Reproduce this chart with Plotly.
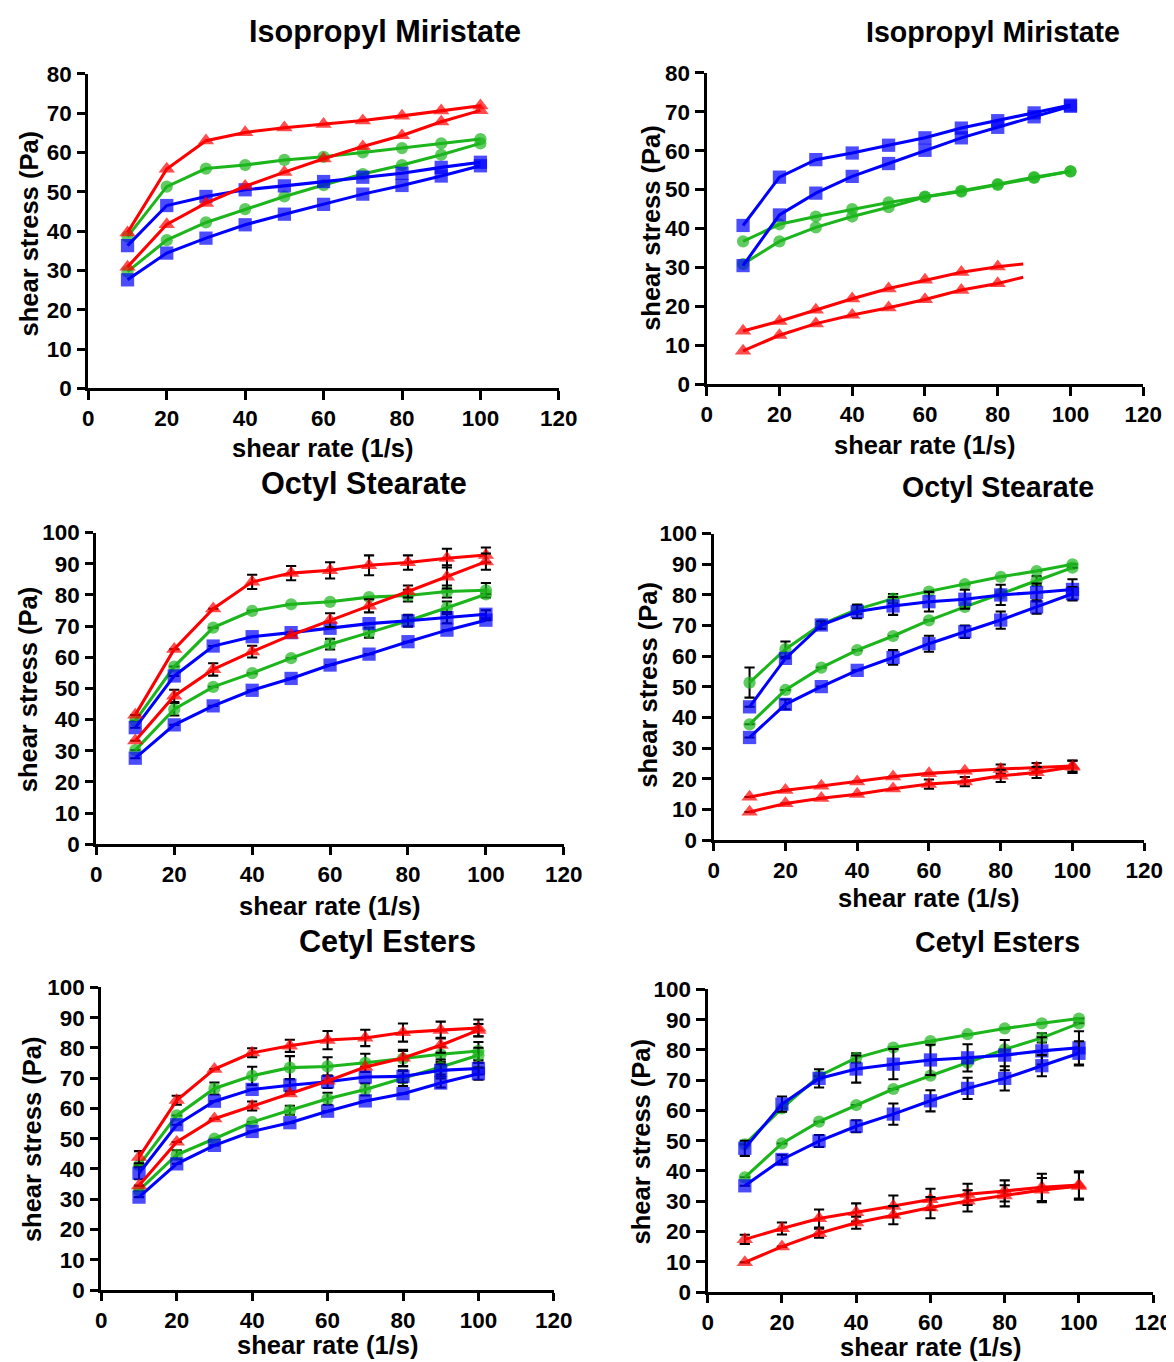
import plotly.graph_objects as go

# Rendering calibration: picture = K * svg + (OX, OY)  (measured empirically)
K, OX, OY = 0.98, 12.6, 20.3
W, H = 1190, 1372

# ---------------- data ----------------
shear_rate = [10, 20, 30, 40, 50, 60, 70, 80, 90, 100]
shear_rate_ipm2_red = [10, 20, 30, 40, 50, 60, 70, 80, 87]

# Panel 1: Isopropyl Miristate (left)
ipm1_red_up = [39.6, 55.8, 63.0, 65.1, 66.3, 67.2, 68.1, 69.3, 70.6, 71.9]
ipm1_red_dn = [30.9, 41.7, 47.1, 51.4, 55.0, 58.4, 61.5, 64.3, 67.8, 70.7]
ipm1_green_up = [38.6, 51.3, 55.9, 56.8, 58.1, 58.9, 60.0, 61.1, 62.3, 63.4]
ipm1_green_dn = [29.7, 37.7, 42.2, 45.6, 48.8, 51.7, 54.5, 56.8, 59.4, 62.3]
ipm1_blue_up = [36.3, 46.5, 48.8, 50.5, 51.5, 52.6, 53.7, 54.7, 56.2, 57.5]
ipm1_blue_dn = [27.6, 34.4, 38.2, 41.6, 44.3, 46.8, 49.4, 51.6, 54.0, 56.6]

# Panel 2: Isopropyl Miristate (right)
ipm2_red_up = [13.7, 16.2, 19.1, 22.0, 24.6, 26.8, 28.8, 30.2, 30.9]
ipm2_red_dn = [8.6, 12.6, 15.6, 17.8, 19.7, 21.8, 24.2, 25.9, 27.5]
ipm2_green_up = [36.7, 41.1, 43.1, 45.0, 46.7, 48.2, 49.7, 51.4, 53.2, 54.7]
ipm2_green_dn = [30.9, 36.7, 40.3, 43.1, 45.5, 48.1, 49.5, 51.2, 53.0, 54.7]
ipm2_blue_up = [40.8, 53.2, 57.7, 59.4, 61.4, 63.3, 65.8, 67.7, 69.7, 71.7]
ipm2_blue_dn = [30.5, 43.5, 49.1, 53.4, 56.7, 60.1, 63.3, 66.0, 68.7, 71.4]

# Panel 3: Octyl Stearate (left)
os1_red_up = [41.5, 62.6, 75.6, 84.2, 87.0, 87.9, 89.5, 90.4, 91.8, 92.8]
os1_red_up_err = [0, 0, 0, 2.3, 2.3, 2.6, 3.2, 2.3, 3.0, 2.4]
os1_red_dn = [33.2, 47.6, 56.1, 61.8, 67.1, 71.9, 76.5, 81.1, 85.8, 90.7]
os1_red_dn_err = [0, 2.0, 2.0, 1.9, 0, 2.2, 2.1, 1.9, 3.7, 2.6]
os1_green_up = [39.6, 57.0, 69.5, 74.9, 77.0, 77.8, 79.3, 79.8, 81.1, 81.5]
os1_green_up_err = [0, 0, 0, 0, 0, 0, 0, 1.9, 1.9, 2.3]
os1_green_dn = [30.2, 43.3, 50.5, 54.9, 59.7, 64.2, 67.9, 71.7, 75.9, 80.2]
os1_green_dn_err = [0, 2.0, 0, 0, 0, 1.7, 1.6, 1.7, 2.0, 0]
os1_blue_up = [37.4, 54.0, 63.6, 66.6, 67.9, 69.3, 70.8, 71.7, 72.7, 73.8]
os1_blue_up_err = [0, 0, 0, 0, 0, 0, 0, 1.9, 1.8, 1.3]
os1_blue_dn = [27.6, 38.3, 44.4, 49.4, 53.2, 57.5, 61.0, 65.0, 68.7, 71.9]
os1_blue_dn_err = [0, 0, 0, 0, 0, 0, 0, 0, 0, 0]

# Panel 4: Octyl Stearate (right)
os2_green_up = [51.4, 62.3, 70.4, 75.3, 78.8, 81.1, 83.5, 85.9, 87.8, 90.0]
os2_green_up_err = [4.9, 2.5, 0, 1.5, 1.5, 0, 0, 0, 0, 0]
os2_green_dn = [37.8, 49.0, 56.3, 62.0, 66.6, 71.7, 76.1, 80.4, 84.6, 88.9]
os2_green_dn_err = [0, 0, 0, 0, 0, 0, 0, 0, 1.5, 0]
os2_blue_up = [43.5, 59.3, 70.2, 74.6, 76.4, 77.8, 78.6, 80.0, 80.8, 81.8]
os2_blue_up_err = [0, 0, 1.2, 2.2, 2.9, 3.2, 3.1, 3.3, 2.9, 3.3]
os2_blue_dn = [33.5, 44.3, 50.1, 55.4, 59.6, 64.1, 68.0, 71.8, 76.1, 80.4]
os2_blue_dn_err = [0, 1.6, 0, 0, 2.4, 2.6, 2.0, 2.8, 2.2, 2.2]
os2_red_up = [14.1, 16.3, 17.7, 19.1, 20.7, 21.8, 22.6, 23.2, 23.7, 24.2]
os2_red_up_err = [0, 0, 0, 0, 0, 0, 0, 1.5, 1.5, 1.8]
os2_red_dn = [9.2, 12.0, 13.7, 15.0, 16.8, 18.3, 19.1, 21.0, 22.1, 23.9]
os2_red_dn_err = [0, 0, 0, 0, 0, 1.5, 1.5, 2.0, 1.8, 2.0]

# Panel 5: Cetyl Esters (left)
ce1_red_up = [43.9, 62.7, 73.0, 78.4, 80.7, 82.6, 83.3, 85.1, 85.9, 86.6]
ce1_red_up_err = [2.0, 1.5, 0, 1.5, 2.0, 3.0, 2.7, 3.0, 2.8, 2.8]
ce1_red_dn = [34.5, 48.9, 56.6, 60.8, 64.9, 69.1, 73.7, 76.7, 80.9, 85.9]
ce1_red_dn_err = [0, 0, 0, 1.5, 0, 0, 0, 2.7, 2.5, 2.0]
ce1_green_up = [41.2, 57.7, 66.6, 70.8, 73.5, 73.9, 75.1, 76.5, 77.9, 79.0]
ce1_green_up_err = [0, 0, 2.0, 3.0, 3.8, 3.0, 3.0, 2.5, 2.5, 3.0]
ce1_green_dn = [32.9, 44.7, 50.0, 55.5, 59.4, 63.2, 66.3, 69.9, 73.7, 77.6]
ce1_green_dn_err = [0, 1.5, 0, 0, 1.5, 2.0, 2.0, 2.5, 2.5, 2.5]
ce1_blue_up = [38.6, 54.6, 62.4, 66.3, 67.7, 68.8, 70.4, 70.6, 72.6, 73.2]
ce1_blue_up_err = [2.0, 0, 0, 0, 2.0, 2.0, 0, 2.0, 2.0, 2.0]
ce1_blue_dn = [30.7, 41.7, 47.8, 52.4, 55.3, 59.1, 62.5, 64.9, 68.4, 71.5]
ce1_blue_dn_err = [0, 0, 0, 0, 0, 0, 0, 0, 1.5, 2.0]

# Panel 6: Cetyl Esters (right)
ce2_green_up = [48.8, 60.7, 71.4, 77.4, 80.8, 82.9, 85.2, 87.1, 88.8, 90.4]
ce2_green_up_err = [0, 0, 0, 1.5, 0, 0, 0, 0, 0, 0]
ce2_green_dn = [37.9, 49.1, 56.3, 61.8, 67.1, 71.5, 75.8, 80.2, 84.0, 88.8]
ce2_green_dn_err = [0, 0, 0, 0, 0, 0, 0, 0, 1.5, 0]
ce2_blue_up = [47.5, 62.1, 70.6, 73.7, 75.3, 76.7, 77.4, 78.3, 79.7, 80.7]
ce2_blue_up_err = [2.5, 2.5, 3.0, 4.5, 5.0, 5.0, 4.5, 5.0, 4.5, 5.5]
ce2_blue_dn = [35.1, 43.8, 49.9, 54.8, 58.8, 63.2, 67.3, 70.6, 74.8, 78.9]
ce2_blue_dn_err = [0, 1.5, 2.0, 2.0, 3.5, 3.5, 3.5, 4.0, 3.5, 4.0]
ce2_red_up = [17.4, 21.0, 24.3, 26.3, 28.4, 30.6, 32.3, 33.4, 34.6, 35.4]
ce2_red_up_err = [1.5, 2.0, 3.0, 3.0, 3.5, 3.5, 3.5, 3.5, 4.5, 4.5]
ce2_red_dn = [9.8, 15.0, 19.4, 22.9, 25.4, 27.9, 30.1, 31.8, 33.7, 35.0]
ce2_red_dn_err = [0, 0, 1.5, 2.0, 3.0, 3.5, 3.5, 3.5, 4.0, 4.5]

titles = ["Isopropyl Miristate", "Isopropyl Miristate", "Octyl Stearate",
          "Octyl Stearate", "Cetyl Esters", "Cetyl Esters"]
x_title = "shear rate (1/s)"
y_title = "shear stress (Pa)"
x_ticks = [0, 20, 40, 60, 80, 100, 120]

# ---------------- styles ----------------
RED = "#ff0000"
GREEN = "#1cb51c"
BLUE = "#0000ff"
FONT = "Liberation Sans"

# target picture-pixel boxes for each panel: (x_left, x_right, y_bottom(0), y_top(max), ymax)
panels = [
    (87, 558, 388, 74, 80),
    (706, 1143, 384, 73, 80),
    (95, 563, 843, 532, 100),
    (713, 1144, 839, 533, 100),
    (100, 553, 1288, 986, 100),
    (707, 1153, 1290, 988, 100),
]

title_pos = [(384, 32), (993, 32), (363, 483), (998, 486), (386, 940), (997, 941)]
title_size = [30, 28, 30, 28, 30, 28]
xlab_pos = [(321, 448), (924, 445), (328, 905), (928, 897), (326, 1343), (930, 1345)]
ylab_pos = [(28, 233), (650, 228), (27, 688), (647, 684), (30, 1137), (640, 1140)]

panel_traces = [
    [(shear_rate, ipm1_green_up, None, GREEN, "circle"),
     (shear_rate, ipm1_green_dn, None, GREEN, "circle"),
     (shear_rate, ipm1_blue_up, None, BLUE, "square"),
     (shear_rate, ipm1_blue_dn, None, BLUE, "square"),
     (shear_rate, ipm1_red_up, None, RED, "triangle-up"),
     (shear_rate, ipm1_red_dn, None, RED, "triangle-up")],
    [(shear_rate, ipm2_green_up, None, GREEN, "circle"),
     (shear_rate, ipm2_green_dn, None, GREEN, "circle"),
     (shear_rate, ipm2_blue_up, None, BLUE, "square"),
     (shear_rate, ipm2_blue_dn, None, BLUE, "square"),
     (shear_rate_ipm2_red, ipm2_red_up, None, RED, "triangle-up"),
     (shear_rate_ipm2_red, ipm2_red_dn, None, RED, "triangle-up")],
    [(shear_rate, os1_green_up, os1_green_up_err, GREEN, "circle"),
     (shear_rate, os1_green_dn, os1_green_dn_err, GREEN, "circle"),
     (shear_rate, os1_blue_up, os1_blue_up_err, BLUE, "square"),
     (shear_rate, os1_blue_dn, os1_blue_dn_err, BLUE, "square"),
     (shear_rate, os1_red_up, os1_red_up_err, RED, "triangle-up"),
     (shear_rate, os1_red_dn, os1_red_dn_err, RED, "triangle-up")],
    [(shear_rate, os2_green_up, os2_green_up_err, GREEN, "circle"),
     (shear_rate, os2_green_dn, os2_green_dn_err, GREEN, "circle"),
     (shear_rate, os2_blue_up, os2_blue_up_err, BLUE, "square"),
     (shear_rate, os2_blue_dn, os2_blue_dn_err, BLUE, "square"),
     (shear_rate, os2_red_up, os2_red_up_err, RED, "triangle-up"),
     (shear_rate, os2_red_dn, os2_red_dn_err, RED, "triangle-up")],
    [(shear_rate, ce1_green_up, ce1_green_up_err, GREEN, "circle"),
     (shear_rate, ce1_green_dn, ce1_green_dn_err, GREEN, "circle"),
     (shear_rate, ce1_blue_up, ce1_blue_up_err, BLUE, "square"),
     (shear_rate, ce1_blue_dn, ce1_blue_dn_err, BLUE, "square"),
     (shear_rate, ce1_red_up, ce1_red_up_err, RED, "triangle-up"),
     (shear_rate, ce1_red_dn, ce1_red_dn_err, RED, "triangle-up")],
    [(shear_rate, ce2_green_up, ce2_green_up_err, GREEN, "circle"),
     (shear_rate, ce2_green_dn, ce2_green_dn_err, GREEN, "circle"),
     (shear_rate, ce2_blue_up, ce2_blue_up_err, BLUE, "square"),
     (shear_rate, ce2_blue_dn, ce2_blue_dn_err, BLUE, "square"),
     (shear_rate, ce2_red_up, ce2_red_up_err, RED, "triangle-up"),
     (shear_rate, ce2_red_dn, ce2_red_dn_err, RED, "triangle-up")],
]

marker_size = {"circle": 12, "square": 13, "triangle-up": 14}


def sx(t):
    return (t - OX) / K


def sy(t):
    return (t - OY) / K


def fx(t):
    return sx(t) / W


def fy(t):
    return 1 - sy(t) / H


def sz(v):
    return v / K


fig = go.Figure()
layout = dict(
    width=W, height=H,
    margin=dict(l=0, r=0, t=0, b=0),
    paper_bgcolor="white", plot_bgcolor="white",
    showlegend=False,
    font=dict(family=FONT, color="black"),
)
annotations = []
tick_font = dict(family=FONT, size=sz(22), color="black", weight="bold")

for i, (xl, xr, yb, yt, ymax) in enumerate(panels):
    n = i + 1
    xa = "xaxis" if n == 1 else f"xaxis{n}"
    ya = "yaxis" if n == 1 else f"yaxis{n}"
    xref = "x" if n == 1 else f"x{n}"
    yref = "y" if n == 1 else f"y{n}"
    layout[xa] = dict(
        domain=[fx(xl), fx(xr)], anchor=yref, range=[0, 120],
        tickvals=x_ticks, ticks="outside", ticklen=sz(8), tickwidth=sz(3), tickcolor="black",
        showline=True, linewidth=sz(3), linecolor="black", showgrid=False, zeroline=False,
        tickfont=tick_font, fixedrange=True,
    )
    layout[ya] = dict(
        domain=[fy(yb), fy(yt)], anchor=xref, range=[0, ymax],
        dtick=10, ticks="outside", ticklen=sz(8), tickwidth=sz(3), tickcolor="black",
        showline=True, linewidth=sz(3), linecolor="black", showgrid=False, zeroline=False,
        tickfont=tick_font, ticklabelstandoff=1, fixedrange=True,
    )
    for (xs, ys, err, col, sym) in panel_traces[i]:
        sizes = [sz(marker_size[sym]) if x % 10 == 0 else 0 for x in xs]
        kw = {}
        if err is not None:
            kw["error_y"] = dict(type="data", array=err, visible=True,
                                 color="black", thickness=sz(2), width=sz(5))
        fig.add_trace(go.Scatter(
            x=xs, y=ys, mode="lines+markers", xaxis=xref, yaxis=yref,
            line=dict(color=col, width=sz(3)),
            marker=dict(symbol=sym, size=sizes, color=col, line=dict(width=0)),
            cliponaxis=False, hoverinfo="skip", **kw))

    tx, ty = title_pos[i]
    annotations.append(dict(text=titles[i], x=fx(tx), y=fy(ty), xref="paper", yref="paper",
                            xanchor="center", yanchor="middle", showarrow=False,
                            font=dict(family=FONT, size=sz(title_size[i]), color="black", weight="bold")))
    lx, ly = xlab_pos[i]
    annotations.append(dict(text=x_title, x=fx(lx), y=fy(ly), xref="paper", yref="paper",
                            xanchor="center", yanchor="middle", showarrow=False,
                            font=dict(family=FONT, size=sz(25), color="black", weight="bold")))
    yx, yy = ylab_pos[i]
    annotations.append(dict(text=y_title, x=fx(yx), y=fy(yy), xref="paper", yref="paper",
                            xanchor="center", yanchor="middle", showarrow=False, textangle=-90,
                            font=dict(family=FONT, size=sz(25), color="black", weight="bold")))

layout["annotations"] = annotations
fig.update_layout(**layout)
fig.write_html("out.html")
